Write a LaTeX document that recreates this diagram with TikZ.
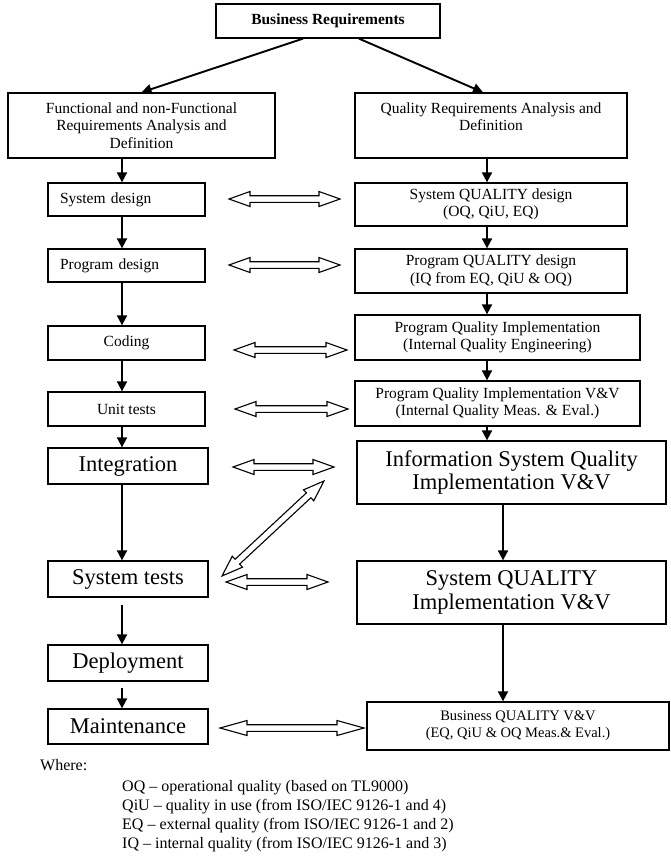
\documentclass[tikz,border=0pt]{standalone}
\usepackage{fontspec}
\setmainfont{Liberation Serif}
\usetikzlibrary{arrows.meta,calc}
\newcommand\fsm{\fontsize{15.5}{17.5}\selectfont}
\newcommand\fbg{\fontsize{22.5}{23.5}\selectfont}
\newcommand\fbq{\fontsize{14.5}{17}\selectfont}
\begin{document}
\begin{tikzpicture}[x=1pt,y=1pt,
  box/.style={draw, line width=1.3pt, inner sep=0pt, align=center, font=\fsm},
  big/.style={box, font=\fbg},
  lbox/.style={box, align=left, inner xsep=12pt, text width=133pt},
  arr/.style={line width=1.9pt, -{Triangle[length=10pt,width=10pt]}},
  legend/.style={anchor=base west, inner sep=0pt, font=\fontsize{16}{18}\selectfont},
  blk/.style={fill=white, draw, line width=1.1pt, line join=miter, to path={
    let \p1=(\tikztostart), \p2=(\tikztotarget),
        \n1={atan2(\y2-\y1,\x2-\x1)}, \n2={veclen(\x2-\x1,\y2-\y1)} in
    (\p1) -- ($(\p1)+(\n1:#1)+(\n1+90:7.5pt)$) -- ($(\p1)+(\n1:#1)+(\n1+90:3.3pt)$)
    -- ($(\p1)+(\n1:{\n2-#1})+(\n1+90:3.3pt)$) -- ($(\p1)+(\n1:{\n2-#1})+(\n1+90:7.5pt)$)
    -- (\p2) -- ($(\p1)+(\n1:{\n2-#1})+(\n1-90:7.5pt)$) -- ($(\p1)+(\n1:{\n2-#1})+(\n1-90:3.3pt)$)
    -- ($(\p1)+(\n1:#1)+(\n1-90:3.3pt)$) -- ($(\p1)+(\n1:#1)+(\n1-90:7.5pt)$) -- cycle}},
  blk/.default=21pt
]
\useasboundingbox (0,0) rectangle (671,-865);

% top
\node[box, font=\bfseries\fsm, minimum width=224pt, minimum height=34pt] (br) at (328,-21) {Business Requirements};
\node[box, minimum width=267pt, minimum height=65pt] (fn) at (141.5,-125.5) {Functional and non-Functional\\Requirements Analysis and\\Definition};
\node[box, minimum width=272pt, minimum height=65pt] (qr) at (491,-125.5) {Quality Requirements Analysis and\\Definition\\\mbox{}};

% left column
\node[lbox, minimum height=33pt] (sd) at (126.5,-199.5) {System design};
\node[lbox, minimum height=33pt] (pd) at (126.5,-265.5) {Program design};
\node[box, minimum width=157pt, minimum height=34pt] (cd) at (126.5,-343) {Coding};
\node[box, minimum width=157pt, minimum height=34pt] (ut) at (126.5,-409) {Unit tests};
\node[big, minimum width=160pt, minimum height=36pt] (ig) at (128,-466) {Integration};
\node[big, minimum width=160pt, minimum height=36pt] (st) at (128,-579) {System tests};
\node[big, minimum width=160pt, minimum height=36pt] (dp) at (128,-663) {Deployment};
\node[big, minimum width=160pt, minimum height=35pt] (mt) at (128,-726.5) {Maintenance};

% right column
\node[box, minimum width=272pt, minimum height=43pt] (sqd) at (491,-204.5) {System QUALITY design\\(OQ, QiU, EQ)};
\node[box, minimum width=272pt, minimum height=44pt] (pqd) at (491,-271) {Program QUALITY design\\(IQ from EQ, QiU \& OQ)};
\node[box, minimum width=285pt, minimum height=45pt] (pqi) at (497.5,-337.5) {Program Quality Implementation\\(Internal Quality Engineering)};
\node[box, minimum width=285pt, minimum height=45pt] (pqv) at (497.5,-403.5) {Program Quality Implementation V\&V\\(Internal Quality Meas. \& Eval.)};
\node[big, minimum width=309pt, minimum height=63pt] (isq) at (511.5,-472.5) {Information System Quality\\Implementation V\&V};
\node[big, minimum width=309pt, minimum height=63pt] (sq) at (511.5,-592.5) {System QUALITY\\Implementation V\&V};
\node[box, font=\fbq, minimum width=302pt, minimum height=48pt] (bq) at (518,-726) {Business QUALITY V\&V\\(EQ, QiU \& OQ Meas.\& Eval.)};

% guide coordinates for vertical connectors
\coordinate (ax) at (122,0);
\coordinate (bx) at (487,0);
\coordinate (cx) at (503,0);

% arrows from top
\draw[arr] ([xshift=-25pt]br.south) -- (fn.north);
\draw[arr] ([xshift=31pt]br.south) -- ([xshift=-8pt]qr.north);

% left chain
\draw[arr] (fn.south -| ax) -- (sd.north -| ax);
\draw[arr] (sd.south -| ax) -- (pd.north -| ax);
\draw[arr] (pd.south -| ax) -- (cd.north -| ax);
\draw[arr] (cd.south -| ax) -- (ut.north -| ax);
\draw[arr] (ut.south -| ax) -- (ig.north -| ax);
\draw[arr] (ig.south -| ax) -- (st.north -| ax);
\draw[arr, shorten <=7pt] (st.south -| ax) -- (dp.north -| ax);
\draw[arr, shorten <=6pt] (dp.south -| ax) -- (mt.north -| ax);

% right chain
\draw[arr] (qr.south -| bx) -- (sqd.north -| bx);
\draw[arr] (sqd.south -| bx) -- (pqd.north -| bx);
\draw[arr] (pqd.south -| bx) -- (pqi.north -| bx);
\draw[arr] (pqi.south -| bx) -- (pqv.north -| bx);
\draw[arr] (pqv.south -| bx) -- (isq.north -| bx);
\draw[arr] (isq.south -| cx) -- (sq.north -| cx);
\draw[arr] (sq.south -| cx) -- (bq.north -| cx);

% block double arrows
\coordinate (a1) at (229,-199); \coordinate (b1) at (340,-199);
\coordinate (a2) at (229,-265); \coordinate (b2) at (340,-265);
\coordinate (a3) at (234,-350); \coordinate (b3) at (347,-350);
\coordinate (a4) at (235,-409); \coordinate (b4) at (348,-409);
\coordinate (a5) at (233,-467); \coordinate (b5) at (334,-467);
\coordinate (a6) at (222,-576); \coordinate (b6) at (324,-481);
\coordinate (a7) at (226,-582); \coordinate (b7) at (328,-582);
\coordinate (a8) at (220,-728); \coordinate (b8) at (364,-728);
\draw[blk] (a1) to (b1);
\draw[blk] (a2) to (b2);
\draw[blk] (a3) to (b3);
\draw[blk] (a4) to (b4);
\draw[blk] (a5) to (b5);
\draw[blk] (a6) to (b6);
\draw[blk] (a7) to (b7);
\draw[blk=27pt] (a8) to (b8);

% legend
\node[legend] (wh) at (40,-770) {Where:};
\node[legend] (l1) at (122,-791) {OQ -- operational quality (based on TL9000)};
\node[legend] (l2) at (122,-810) {QiU -- quality in use (from ISO/IEC 9126-1 and 4)};
\node[legend] (l3) at (122,-829) {EQ -- external quality (from ISO/IEC 9126-1 and 2)};
\node[legend] (l4) at (122,-848) {IQ -- internal quality (from ISO/IEC 9126-1 and 3)};
\end{tikzpicture}
\end{document}
